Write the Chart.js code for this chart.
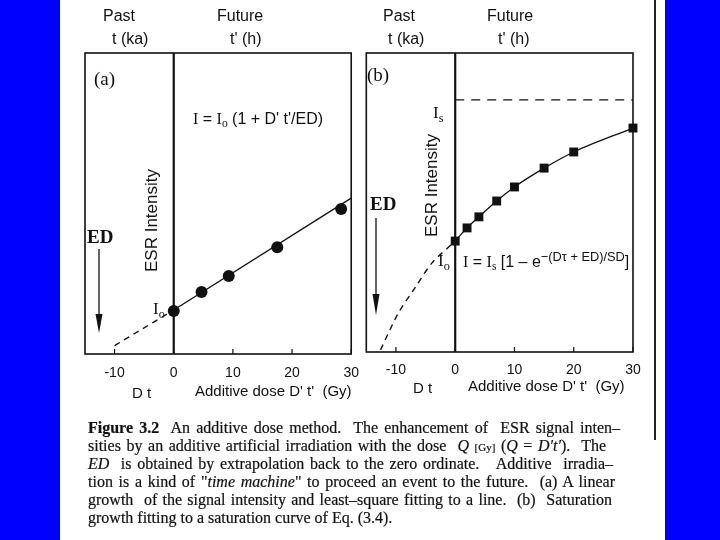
<!DOCTYPE html>
<html>
<head>
<meta charset="utf-8">
<script src="https://cdn.jsdelivr.net/npm/chart.js@4.4.1/dist/chart.umd.min.js"></script>
<style>
  body { margin: 0; }
  #page { position: relative; width: 720px; height: 540px; background: #0000ff; overflow: hidden;
          font-family: "Liberation Sans", Arial, sans-serif; color: #111; }
  #sheet { position: absolute; left: 60px; top: 0; width: 605px; height: 540px; background: #fff; }
  .wrap { position: absolute; top: 0; height: 420px; }
  .t { position: absolute; white-space: nowrap; line-height: 1; }
  .serif { font-family: "Liberation Serif", "Times New Roman", serif; }
  .sub { font-size: 0.72em; position: relative; top: 0.3em; }
  .sup { font-size: 0.8em; position: relative; top: -0.5em; }
  .rot { transform: rotate(-90deg); transform-origin: left top; }
  .ov { position: absolute; left: 0; top: 0; pointer-events: none; }
  .cap { position: absolute; left: 88px; font-family: "Liberation Serif", "Times New Roman", serif;
         font-size: 16px; line-height: 18px; text-align: justify; text-align-last: justify; color: #111;
         -webkit-text-stroke: 0.2px #111; }
</style>
</head>
<body>
<div id="page">
  <div id="sheet"></div>
  <div class="wrap" style="left:60px;width:310px"><canvas id="chartA"></canvas></div>
  <div class="wrap" style="left:360px;width:300px"><canvas id="chartB"></canvas></div>

  <svg class="ov" width="720" height="540">
    <g stroke="#111" stroke-width="1.3">
      <line x1="99" y1="249" x2="99" y2="318"/>
      <line x1="376" y1="218" x2="376" y2="298"/>
    </g>
    <g fill="#111">
      <polygon points="95.5,314 102.5,314 99,333"/>
      <polygon points="372.5,294 379.5,294 376,315"/>
    </g>
    <line x1="655" y1="0" x2="655" y2="440" stroke="#222" stroke-width="2"/>
  </svg>

  <!-- panel (a) labels -->
  <div class="t" style="left:103px;top:8px;font-size:16px">Past</div>
  <div class="t" style="left:112px;top:31px;font-size:16px">t (ka)</div>
  <div class="t" style="left:217px;top:8px;font-size:16px">Future</div>
  <div class="t" style="left:230px;top:31px;font-size:16px">t' (h)</div>
  <div class="t serif" style="left:94px;top:69px;font-size:19px">(a)</div>
  <div class="t" style="left:193px;top:111px;font-size:16px"><span class="serif">I</span> = <span class="serif">I<span class="sub">o</span></span> (1 + D' t'/ED)</div>
  <div class="t rot" style="left:143px;top:272px;font-size:17px">ESR Intensity</div>
  <div class="t serif" style="left:87px;top:227px;font-size:19px;font-weight:bold">ED</div>
  <div class="t serif" style="left:153px;top:300px;font-size:17px">I<span class="sub">o</span></div>
  <div class="t" style="left:132px;top:385px;font-size:15px">D t</div>
  <div class="t" style="left:195px;top:383px;font-size:15px">Additive dose D' t'&nbsp; (Gy)</div>

  <!-- panel (b) labels -->
  <div class="t" style="left:383px;top:8px;font-size:16px">Past</div>
  <div class="t" style="left:388px;top:31px;font-size:16px">t (ka)</div>
  <div class="t" style="left:487px;top:8px;font-size:16px">Future</div>
  <div class="t" style="left:498px;top:31px;font-size:16px">t' (h)</div>
  <div class="t serif" style="left:367px;top:65px;font-size:19px">(b)</div>
  <div class="t serif" style="left:433px;top:104px;font-size:17px">I<span class="sub">s</span></div>
  <div class="t rot" style="left:423px;top:237px;font-size:17px">ESR Intensity</div>
  <div class="t serif" style="left:370px;top:194px;font-size:19px;font-weight:bold">ED</div>
  <div class="t serif" style="left:438px;top:252px;font-size:17px">I<span class="sub">o</span></div>
  <div class="t" style="left:463px;top:254px;font-size:16px"><span class="serif">I</span> = <span class="serif">I<span class="sub">s</span></span> [1 – e<span class="sup">−(Dτ + ED)/SD</span>]</div>
  <div class="t" style="left:413px;top:380px;font-size:15px">D t</div>
  <div class="t" style="left:468px;top:378px;font-size:15px">Additive dose D' t'&nbsp; (Gy)</div>

  <!-- caption -->
  <div class="cap" style="top:419px;width:532px"><b>Figure 3.2</b>&nbsp; An additive dose method.&nbsp; The enhancement of&nbsp; ESR signal inten–</div>
  <div class="cap" style="top:437px;width:518px">sities by an additive artificial irradiation with the dose&nbsp; <i>Q</i> <span style="font-size:11px">[Gy]</span> (<i>Q</i> = <i>D′t′</i>).&nbsp; The</div>
  <div class="cap" style="top:455px;width:525px"><i>ED</i>&nbsp; is obtained by extrapolation back to the zero ordinate.&nbsp;&nbsp; Additive&nbsp; irradia–</div>
  <div class="cap" style="top:473px;width:527px">tion is a kind of "<i>time machine</i>" to proceed an event to the future.&nbsp; (a) A linear</div>
  <div class="cap" style="top:491px;width:524px">growth&nbsp; of the signal intensity and least–square fitting to a line.&nbsp; (b)&nbsp; Saturation</div>
  <div class="cap" style="top:509px;white-space:nowrap;text-align:left;text-align-last:left">growth fitting to a saturation curve of Eq. (3.4).</div>
</div>

<script>
// shared x axis (additive dose, Gy)
const xTicks = [-10, 0, 10, 20, 30];
const xMin = -15;
const xMax = 30;
const zeroDose = [0, 0];
const zeroIntensity = [0, 100];

// (a) linear growth
const doseA = [0, 4.7, 9.3, 17.5, 28.3];
const intensityA = [14.3, 20.6, 25.9, 35.5, 48.2];
const fitDoseA = [-10, 0, 30];
const fitIntensityA = [2.8, 14.6, 51.8];

// (b) saturation growth
const doseB = [0, 2, 4, 7, 10, 15, 20, 30];
const intensityB = [37.1, 41.5, 45.2, 50.5, 55.2, 61.5, 66.9, 74.9];
const extrapDoseB = [-12.6, -9.6, -6.7, -3.9, 0];
const extrapIntensityB = [0.7, 13.0, 21.7, 29.8, 37.1];
const satDoseB = [0, 30];
const satIntensityB = [84.3, 84.3];

function pts(xs, ys) {
    return xs.map((x, i) => ({ x: x, y: ys[i] }));
}

// box round the plot area and short inward ticks
const framePlugin = {
    id: 'frame',
    beforeDatasetsDraw(chart) {
        const ctx = chart.ctx;
        const a = chart.chartArea;
        const x = chart.scales.x;
        ctx.save();
        ctx.strokeStyle = '#111';
        ctx.lineWidth = 1.6;
        ctx.strokeRect(a.left, a.top, a.right - a.left, a.bottom - a.top);
        ctx.lineWidth = 1.2;
        x.ticks.forEach(t => {
            const px = x.getPixelForValue(t.value);
            ctx.beginPath();
            ctx.moveTo(px, a.bottom);
            ctx.lineTo(px, a.bottom - 5);
            ctx.stroke();
        });
        ctx.restore();
    }
};

function makeChart(id, padding, labelPad, datasets) {
    return new Chart(document.getElementById(id).getContext('2d'), {
        type: 'scatter',
        data: { datasets: datasets },
        options: {
            responsive: true,
            maintainAspectRatio: false,
            animation: false,
            layout: { padding: padding },
            plugins: { legend: { display: false }, tooltip: { enabled: false } },
            scales: {
                x: {
                    type: 'linear', min: xMin, max: xMax,
                    afterBuildTicks: s => { s.ticks = xTicks.map(v => ({ value: v })); },
                    afterFit: s => { s.height = 30; },
                    grid: { display: false, drawTicks: false },
                    border: { display: false },
                    ticks: { autoSkip: false, maxRotation: 0, padding: labelPad, color: '#111',
                             font: { family: 'Liberation Sans', size: 14 } }
                },
                y: { display: false, min: 0, max: 100 }
            }
        },
        plugins: [framePlugin]
    });
}

const zeroLine = () => ({
    data: pts(zeroDose, zeroIntensity), showLine: true,
    borderColor: '#111', borderWidth: 2.2, pointRadius: 0
});

makeChart('chartA', { left: 25, right: 18, top: 53, bottom: 36 }, 11, [
    zeroLine(),
    {
        data: pts(fitDoseA.slice(0, 2), fitIntensityA.slice(0, 2)), showLine: true,
        borderColor: '#111', borderWidth: 1.4, borderDash: [6, 5], pointRadius: 0
    },
    {
        data: pts(fitDoseA.slice(1), fitIntensityA.slice(1)), showLine: true,
        borderColor: '#111', borderWidth: 1.3, pointRadius: 0
    },
    {
        data: pts(doseA, intensityA), pointRadius: 6, pointBackgroundColor: '#111',
        pointBorderWidth: 0, clip: false
    }
]);

makeChart('chartB', { left: 5, right: 27, top: 53, bottom: 38 }, 10, [
    zeroLine(),
    {
        data: pts(satDoseB, satIntensityB), showLine: true,
        borderColor: '#111', borderWidth: 1.3, borderDash: [9, 7], pointRadius: 0
    },
    {
        data: pts(extrapDoseB, extrapIntensityB), showLine: true, tension: 0.3,
        borderColor: '#111', borderWidth: 1.4, borderDash: [6, 5], pointRadius: 0
    },
    {
        data: pts(doseB, intensityB), showLine: true, cubicInterpolationMode: 'monotone',
        borderColor: '#111', borderWidth: 1.3, pointStyle: 'rect', pointRadius: 6.3,
        pointBackgroundColor: '#111', pointBorderWidth: 0, clip: false
    }
]);
</script>
</body>
</html>
